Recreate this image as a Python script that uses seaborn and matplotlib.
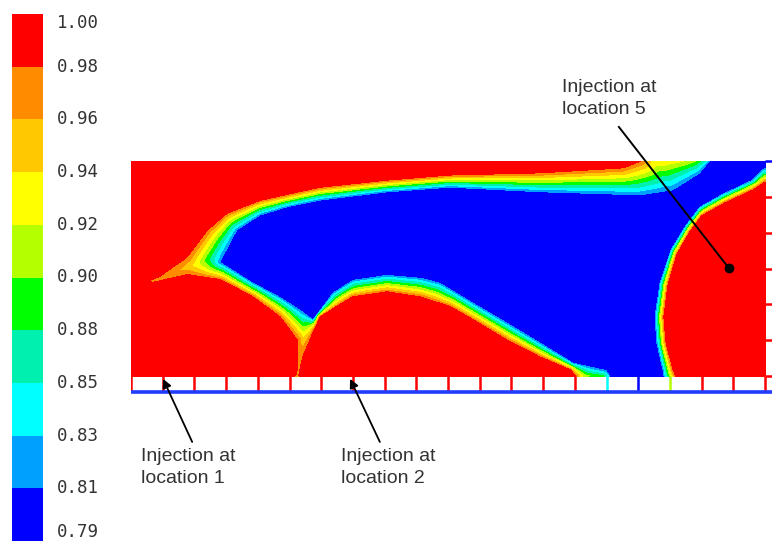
import numpy as np
import matplotlib
matplotlib.use("Agg")
import matplotlib.pyplot as plt
import seaborn as sns
from matplotlib.colors import ListedColormap, BoundaryNorm
from matplotlib.path import Path

# -------------------------
# Data (x, y in grid-cell units: 20 cells wide, 6 cells high)
# -------------------------
LEVELS = [0.79, 0.81, 0.83, 0.85, 0.88, 0.90, 0.92, 0.94, 0.96, 0.98, 1.00]
LEVEL_LABELS = ["0.79", "0.81", "0.83", "0.85", "0.88", "0.90",
                "0.92", "0.94", "0.96", "0.98", "1.00"]
BAND_COLORS = ["#0000ff", "#00a0ff", "#00ffff", "#00f0b0", "#00ff00",
               "#b4ff00", "#ffff00", "#ffc800", "#ff8c00", "#ff0000"]

N_CELLS_X = 20
N_CELLS_Y = 6

# outline of the blue core (value below 0.81)
BLUE_X = [2.81, 3.34, 4.07, 4.92, 5.96, 8.08, 10.06, 12.90, 16.06, 17.10,
          17.95, 18.26, 18.42, 20.32, 20.32, 19.90, 19.62, 18.68, 17.95, 17.51,
          17.03, 16.69, 16.53, 16.59, 16.78, 16.85, 15.30, 15.00, 13.94, 12.90,
          11.86, 10.79, 9.75, 9.12, 8.08, 7.00, 6.37, 5.74, 5.33, 4.70, 3.85]
BLUE_Y = [3.18, 4.07, 4.49, 4.72, 4.91, 5.14, 5.27, 5.14, 5.05, 5.19,
          5.67, 6.00, 6.31, 6.31, 5.89, 5.75, 5.47, 5.08, 4.72, 4.21,
          3.52, 2.60, 1.65, 0.92, 0.17, -0.25, -0.25, 0.15, 0.36, 0.92,
          1.48, 2.04, 2.60, 2.74, 2.82, 2.68, 2.32, 1.56, 1.84, 2.20, 2.60]

# outline of the front (value below 0.98, everything outside is red)
FRONT_X = [5.14, 5.24, 5.24, 4.70, 3.85, 2.81, 1.77, 0.69, 0.47, 0.91,
           1.77, 2.40, 3.03, 4.07, 5.96, 8.08, 10.06, 12.90, 15.52, 16.06,
           16.12, 20.32, 20.32, 20.00, 19.62, 18.74, 18.01, 17.63, 17.22, 16.94,
           16.81, 16.88, 17.10, 17.30, 14.10, 14.05, 13.85, 12.90, 11.86, 10.79,
           10.06, 9.12, 8.08, 7.00, 5.96, 5.43, 5.30, 5.27]
FRONT_Y = [-0.17, 0.25, 1.00, 1.65, 2.20, 2.68, 2.82, 2.60, 2.65, 2.79,
           3.32, 4.07, 4.55, 4.91, 5.27, 5.47, 5.61, 5.67, 5.81, 6.00,
           6.31, 6.31, 5.44, 5.41, 5.19, 4.83, 4.47, 4.02, 3.38, 2.54,
           1.65, 0.92, 0.17, -0.25, -0.25, -0.03, 0.17, 0.53, 1.00, 1.56,
           1.93, 2.20, 2.34, 2.20, 1.65, 0.53, 0.00, -0.17]

INJ_LABELS = ["Injection at\nlocation 1", "Injection at\nlocation 2",
              "Injection at\nlocation 5"]

Y_SCALE = 35.83 / 31.7   # cells are a bit taller than wide


# -------------------------
# Field construction
# -------------------------
def boundary_distance(px, py, xs, ys):
    xs = np.asarray(xs)
    ys = np.asarray(ys) * Y_SCALE
    qy = py * Y_SCALE
    best = np.full(px.shape, np.inf)
    for i in range(len(xs)):
        ax_, ay = xs[i], ys[i]
        bx, by = xs[(i + 1) % len(xs)], ys[(i + 1) % len(ys)]
        dx, dy = bx - ax_, by - ay
        t = ((px - ax_) * dx + (qy - ay) * dy) / (dx * dx + dy * dy)
        t = np.clip(t, 0, 1)
        d = np.hypot(px - (ax_ + t * dx), qy - (ay + t * dy))
        best = np.minimum(best, d)
    return best


def build_field():
    gx = np.linspace(0, N_CELLS_X, 641)
    gy = np.linspace(0, N_CELLS_Y, 217)
    X, Y = np.meshgrid(gx, gy)
    pts = np.column_stack([X.ravel(), Y.ravel()])

    in_blue = Path(np.column_stack([BLUE_X, BLUE_Y])).contains_points(pts)
    in_front = Path(np.column_stack([FRONT_X, FRONT_Y])).contains_points(pts)
    in_blue = in_blue.reshape(X.shape)
    in_front = in_front.reshape(X.shape)

    d_blue = boundary_distance(X, Y, BLUE_X, BLUE_Y)
    d_front = boundary_distance(X, Y, FRONT_X, FRONT_Y)
    t = d_blue / (d_blue + d_front + 1e-9)

    idx = 1 + 8 * t
    idx[in_blue] = 0.5
    idx[~in_front] = 9.5
    V = np.interp(idx, np.arange(len(LEVELS)), LEVELS)
    return gx, gy, X, Y, V


# -------------------------
# Plot
# -------------------------
def main():
    plt.rcParams["font.family"] = ["Liberation Sans", "DejaVu Sans"]
    W, H = 772, 557
    fig = plt.figure(figsize=(W / 100, H / 100), dpi=100)

    cmap = ListedColormap(BAND_COLORS)
    norm = BoundaryNorm(LEVELS, len(BAND_COLORS))

    # colour scale
    cax = fig.add_axes([12 / W, 16 / H, 31 / W, 527 / H])
    band_idx = np.arange(len(BAND_COLORS))[::-1].reshape(-1, 1)
    sns.heatmap(band_idx, ax=cax, cmap=cmap, vmin=-0.5, vmax=9.5,
                cbar=False, xticklabels=False, yticklabels=False)
    cax.set_xticks([])
    cax.set_yticks([])
    labels = LEVEL_LABELS[::-1]
    for i, lab in enumerate(labels):
        va = "center"
        if i == 0:
            va = "top"
        elif i == len(labels) - 1:
            va = "bottom"
        cax.text(1.45, i, lab, transform=cax.get_yaxis_transform(),
                 ha="left", va=va, fontsize=12.5, color="#333333",
                 family="DejaVu Sans Mono")

    # contour field
    strip = 0.447
    ax = fig.add_axes([131 / W, (H - 395) / H, 641 / W, 234 / H])
    gx, gy, X, Y, V = build_field()
    ax.contourf(X, Y, V, levels=LEVELS, colors=BAND_COLORS, antialiased=False)
    ax.set_xlim(0, N_CELLS_X + 0.22)
    ax.set_ylim(-0.53, N_CELLS_Y)
    ax.set_axis_off()

    # injection cells along the bottom
    for i in range(N_CELLS_X + 1):
        v = V[0, np.argmin(np.abs(gx - i))]
        ax.plot([i, i], [-strip, 0], color=cmap(norm(v)), lw=1.8,
                solid_capstyle="butt")
    ax.plot([0, N_CELLS_X + 0.22], [-strip, -strip], color="#1f3cff", lw=2.6,
            solid_capstyle="butt", clip_on=False)

    # cells along the right edge
    for j in range(N_CELLS_Y + 1):
        v = V[np.argmin(np.abs(gy - j)), -1]
        ax.plot([N_CELLS_X, N_CELLS_X + 0.22], [j, j], color=cmap(norm(v)),
                lw=1.8, solid_capstyle="butt", clip_on=False)

    # annotations
    arrow = dict(arrowstyle="-|>", color="black", lw=1.3, mutation_scale=13,
                 shrinkA=0, shrinkB=0)
    ax.annotate("", xy=(1.01, -0.08), xytext=(1.93, -1.84),
                arrowprops=arrow, annotation_clip=False)
    ax.annotate("", xy=(6.91, -0.08), xytext=(7.85, -1.84),
                arrowprops=arrow, annotation_clip=False)
    ax.text(0.33, -2.0, INJ_LABELS[0], ha="left", va="top", fontsize=14,
            color="#333333", linespacing=1.4)
    ax.text(6.64, -2.0, INJ_LABELS[1], ha="left", va="top", fontsize=14,
            color="#333333", linespacing=1.4)

    ax.plot([15.39, 18.86], [6.95, 3.01], color="black", lw=1.4, clip_on=False)
    ax.plot([18.86], [3.01], "o", color="black", ms=6, clip_on=False)
    ax.text(13.60, 8.28, INJ_LABELS[2], ha="left", va="top", fontsize=14,
            color="#333333", linespacing=1.4)

    fig.savefig("out.png", dpi=100)


if __name__ == "__main__":
    main()
